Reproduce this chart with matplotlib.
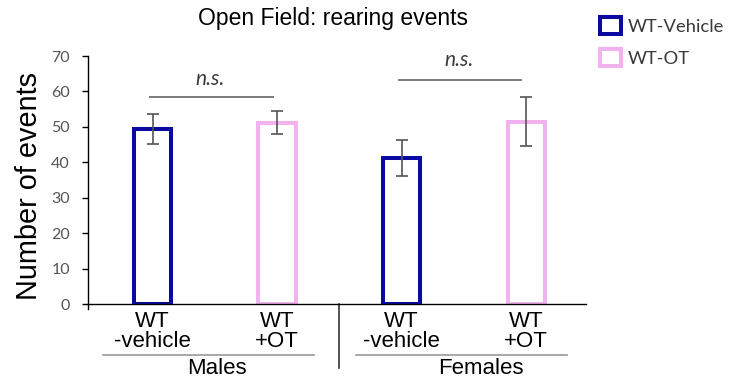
import matplotlib
matplotlib.use("Agg")
import matplotlib.pyplot as plt
from matplotlib.patches import Rectangle

# Rearing events in the open field, mean +/- SEM
groups = ["Males", "Females"]
conditions = ["WT\n-vehicle", "WT\n+OT", "WT\n-vehicle", "WT\n+OT"]
means = [49.4, 51.2, 41.3, 51.5]
errors = [4.2, 3.2, 5.1, 6.8]
legend_labels = ["WT-Vehicle", "WT-OT"]
sig_labels = ["n.s.", "n.s."]
y_ticks = [0, 10, 20, 30, 40, 50, 60, 70]

blue = "#0a0aa0"
pink = "#f2b2f0"
bar_colors = [blue, pink, blue, pink]
gray = "#555555"

W, H = 741, 385
fig = plt.figure(figsize=(W / 100, H / 100), dpi=100)
ax = fig.add_axes([88 / W, 1 - 304 / H, (586 - 88) / W, (304 - 56) / H])

x = list(range(len(means)))
ax.bar(x, means, width=0.30, facecolor="white", edgecolor=bar_colors,
       linewidth=2.9, zorder=2)
ax.errorbar(x, means, yerr=errors, fmt="none", ecolor=gray, elinewidth=1.2,
            capsize=4, capthick=1.2, zorder=3)

ax.set_xlim(-0.518, 3.48)
ax.set_ylim(0, 70)
ax.set_yticks(y_ticks)
ax.set_yticklabels([str(v) for v in y_ticks], family="Lato", fontsize=11.5,
                   color=gray)
ax.tick_params(axis="y", direction="out", length=4, width=1, pad=9)
ax.set_xticks(x)
ax.set_xticklabels(conditions, family="Liberation Sans", fontsize=16,
                   linespacing=0.95)
ax.tick_params(axis="x", length=0, pad=5)
for s in ["top", "right"]:
    ax.spines[s].set_visible(False)
for s in ["left", "bottom"]:
    ax.spines[s].set_linewidth(1.0)
# y axis runs slightly below the baseline
ax.plot([-0.518, -0.518], [0, -1.3], color="black", lw=1.0, clip_on=False)

ax.set_ylabel("Number of events", family="Liberation Sans", fontsize=20.8,
              labelpad=6)
ax.yaxis.label.set_y(0.474)
fig.text(333 / W, 1 - 18 / H, "Open Field: rearing events",
         family="Liberation Sans", fontsize=16.5, ha="center", va="center")

# group separators and labels below the axis
xt = ax.get_xaxis_transform()
ax.plot([1.5, 1.5], [0, -0.258], color="#333333", lw=1.2, transform=xt,
        clip_on=False)
ax.plot([-0.40, 1.297], [-0.206, -0.206], color="#999999", lw=1.2,
        transform=xt, clip_on=False)
ax.plot([1.634, 3.33], [-0.206, -0.206], color="#999999", lw=1.2,
        transform=xt, clip_on=False)
ax.text(0.515, -0.262, groups[0], transform=xt, ha="center", va="center",
        family="Liberation Sans", fontsize=16)
ax.text(2.64, -0.262, groups[1], transform=xt, ha="center", va="center",
        family="Liberation Sans", fontsize=16)

# significance brackets
brackets = [((-0.02, 0.965), 58.3, 0.46, 63.6),
            ((1.98, 2.955), 63.2, 2.46, 69.0)]
for (x0, x1), yb, xtxt, ytxt in brackets:
    ax.plot([x0, x1], [yb, yb], color="#7a7a7a", lw=1.4, clip_on=False)
for ((x0, x1), yb, xtxt, ytxt), lab in zip(brackets, sig_labels):
    ax.text(xtxt, ytxt, lab, ha="center", va="center", family="Lato",
            style="italic", fontsize=15, color="#3a3a3a", clip_on=False)

# legend
for (yc, col, lab) in [(25.5, blue, legend_labels[0]),
                       (57.5, pink, legend_labels[1])]:
    bw, bh = 21, 17
    fig.add_artist(Rectangle(((610.5 - bw / 2) / W, 1 - (yc + bh / 2) / H),
                             bw / W, bh / H, facecolor="white",
                             edgecolor=col, linewidth=2.9,
                             transform=fig.transFigure))
    fig.text(628 / W, 1 - (yc + 1) / H, lab, family="Lato", fontsize=13.2,
             color="#3a3a3a", ha="left", va="center")

fig.savefig("out.png", dpi=100)
